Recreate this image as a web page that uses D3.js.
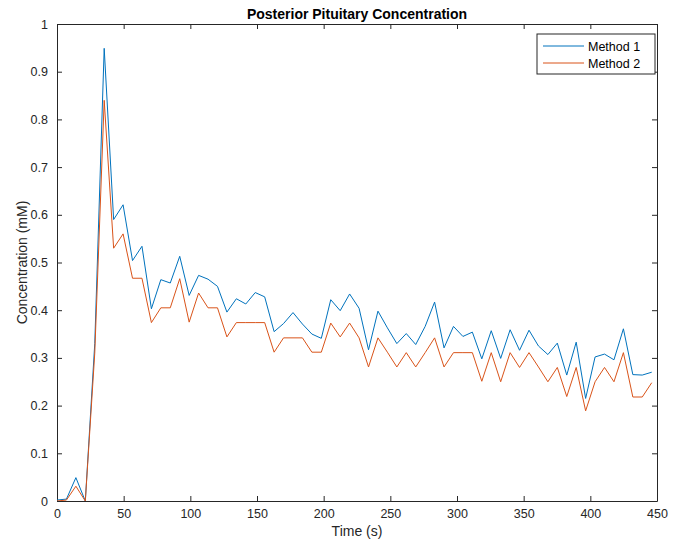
<!DOCTYPE html>
<html>
<head>
<meta charset="utf-8">
<script src="https://cdn.jsdelivr.net/npm/d3@7"></script>
<style>
  html, body { margin: 0; padding: 0; background: #fff; }
  svg { display: block; font-family: "Liberation Sans", Arial, Helvetica, sans-serif; }
</style>
</head>
<body>
<svg id="chart" width="674" height="546"></svg>
<script>
// Sample times (s)
const time = [0, 7.08, 14.16, 21.24, 28.32, 35.4, 42.48, 49.56, 56.64, 63.72,
  70.8, 77.88, 84.96, 92.04, 99.12, 106.2, 113.28, 120.36, 127.44, 134.52,
  141.6, 148.68, 155.76, 162.84, 169.92, 177.0, 184.08, 191.16, 198.24, 205.32,
  212.4, 219.48, 226.56, 233.64, 240.72, 247.8, 254.88, 261.96, 269.04, 276.12,
  283.2, 290.28, 297.36, 304.44, 311.52, 318.6, 325.68, 332.76, 339.84, 346.92,
  354.0, 361.08, 368.16, 375.24, 382.32, 389.4, 396.48, 403.56, 410.64, 417.72,
  424.8, 431.88, 438.96, 446.04];

// Concentration (mM), method 1
const method1 = [0.002, 0.004, 0.049, 0.0, 0.33, 0.949, 0.590, 0.621, 0.504, 0.534,
  0.403, 0.464, 0.457, 0.513, 0.431, 0.473, 0.465, 0.450, 0.396, 0.424,
  0.413, 0.437, 0.428, 0.355, 0.372, 0.395, 0.371, 0.350, 0.341, 0.422,
  0.399, 0.434, 0.404, 0.317, 0.398, 0.363, 0.330, 0.351, 0.328, 0.366,
  0.417, 0.321, 0.366, 0.345, 0.354, 0.298, 0.357, 0.299, 0.359, 0.316,
  0.358, 0.325, 0.307, 0.331, 0.264, 0.333, 0.215, 0.302, 0.308, 0.296,
  0.361, 0.265, 0.264, 0.270];

// Concentration (mM), method 2
const method2 = [0.0, 0.002, 0.031, 0.0, 0.31, 0.840, 0.530, 0.560, 0.467, 0.467,
  0.374, 0.405, 0.405, 0.466, 0.375, 0.436, 0.405, 0.405, 0.344, 0.374,
  0.374, 0.374, 0.374, 0.312, 0.342, 0.342, 0.342, 0.312, 0.312, 0.373,
  0.344, 0.373, 0.342, 0.281, 0.342, 0.312, 0.281, 0.311, 0.281, 0.311,
  0.342, 0.281, 0.311, 0.311, 0.311, 0.251, 0.311, 0.250, 0.311, 0.280,
  0.311, 0.281, 0.250, 0.280, 0.219, 0.280, 0.189, 0.250, 0.280, 0.250,
  0.311, 0.218, 0.218, 0.248];

const xTicks = [0, 50, 100, 150, 200, 250, 300, 350, 400, 450];
const yTicks = [0, 0.1, 0.2, 0.3, 0.4, 0.5, 0.6, 0.7, 0.8, 0.9, 1];
const seriesNames = ["Method 1", "Method 2"];
const seriesColors = ["#0072BD", "#D95319"];

const svg = d3.select("#chart");
const m = { left: 57, right: 17, top: 24, bottom: 45 };
const W = 674, H = 546;
const pw = W - m.left - m.right, ph = H - m.top - m.bottom;
const axisColor = "#262626";

const x = d3.scaleLinear().domain([0, 450]).range([m.left, m.left + pw]);
const y = d3.scaleLinear().domain([0, 1]).range([m.top + ph, m.top]);

const g = svg.append("g");

// Axes with inward ticks on all four sides
function styleAxis(sel) {
  sel.select(".domain").attr("stroke", axisColor).attr("stroke-width", 1);
  sel.selectAll(".tick line").attr("stroke", axisColor).attr("stroke-width", 1);
  sel.selectAll(".tick text").attr("fill", axisColor).attr("font-size", 12.5);
}

g.append("g").attr("transform", `translate(0,${m.top + ph})`)
  .call(d3.axisBottom(x).tickValues(xTicks).tickFormat(d3.format("d")).tickSizeInner(-5).tickSizeOuter(0).tickPadding(8))
  .call(styleAxis);
g.append("g").attr("transform", `translate(0,${m.top})`)
  .call(d3.axisTop(x).tickValues(xTicks).tickFormat("").tickSizeInner(-5).tickSizeOuter(0))
  .call(styleAxis);
g.append("g").attr("transform", `translate(${m.left},0)`)
  .call(d3.axisLeft(y).tickValues(yTicks).tickFormat(d => d === 0 || d === 1 ? String(d) : d3.format(".1f")(d)).tickSizeInner(-5).tickSizeOuter(0).tickPadding(9))
  .call(styleAxis);
g.append("g").attr("transform", `translate(${m.left + pw},0)`)
  .call(d3.axisRight(y).tickValues(yTicks).tickFormat("").tickSizeInner(-5).tickSizeOuter(0))
  .call(styleAxis);

// Data lines
const clip = svg.append("clipPath").attr("id", "plotclip")
  .append("rect").attr("x", m.left).attr("y", m.top).attr("width", pw).attr("height", ph);

const line = d3.line().x((d, i) => x(time[i])).y(d => y(d));
[method1, method2].forEach((s, k) => {
  g.append("path").datum(s)
    .attr("d", line)
    .attr("fill", "none")
    .attr("stroke", seriesColors[k])
    .attr("stroke-width", 1)
    .attr("stroke-linejoin", "miter")
    .attr("clip-path", "url(#plotclip)");
});

// Title and axis labels
svg.append("text").attr("x", m.left + pw / 2).attr("y", 19)
  .attr("text-anchor", "middle").attr("font-size", 14).attr("font-weight", "bold")
  .attr("fill", "#000").text("Posterior Pituitary Concentration");
svg.append("text").attr("x", m.left + pw / 2).attr("y", 536)
  .attr("text-anchor", "middle").attr("font-size", 14).attr("fill", axisColor)
  .text("Time (s)");
svg.append("text").attr("transform", `translate(27,${m.top + ph / 2}) rotate(-90)`)
  .attr("text-anchor", "middle").attr("font-size", 14).attr("fill", axisColor)
  .text("Concentration (mM)");

// Legend
const lg = svg.append("g").attr("transform", "translate(537,34)");
lg.append("rect").attr("x", 0).attr("y", 0).attr("width", 118).attr("height", 40)
  .attr("fill", "#fff").attr("stroke", axisColor).attr("stroke-width", 1);
seriesNames.forEach((name, k) => {
  const yy = 12 + k * 17;
  lg.append("line").attr("x1", 6).attr("x2", 47).attr("y1", yy).attr("y2", yy)
    .attr("stroke", seriesColors[k]).attr("stroke-width", 1);
  lg.append("text").attr("x", 51).attr("y", yy + 4.5).attr("font-size", 12.5)
    .attr("fill", "#000").text(name);
});
</script>
</body>
</html>
